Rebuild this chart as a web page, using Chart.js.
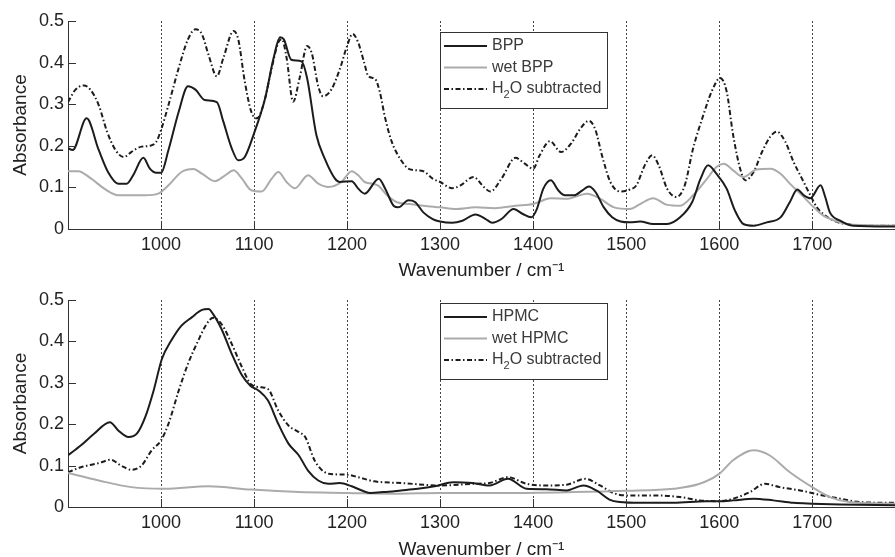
<!DOCTYPE html>
<html><head><meta charset="utf-8">
<script src="https://cdn.jsdelivr.net/npm/chart.js@4/dist/chart.umd.min.js"></script>
<style>
html,body{margin:0;padding:0;background:#fff;}
#wrap{position:relative;width:895px;height:557px;overflow:hidden;background:#fff;}
.panel{position:absolute;left:0;width:895px;}
canvas{display:block;}
</style></head><body>
<div id="wrap">
<div class="panel" style="top:0;height:278px"><canvas id="c1" width="895" height="278"></canvas></div>
<div class="panel" style="top:278px;height:279px"><canvas id="c2" width="895" height="279"></canvas></div>
</div>
<script>
// ---- data (wavenumber / cm-1, absorbance) ----
const xTicks = [1000,1100,1200,1300,1400,1500,1600,1700];
const yTicks = [0,0.1,0.2,0.3,0.4,0.5];
const xTitle = 'Wavenumber / cm\u207B\u00B9';
const yTitle = 'Absorbance';
const topLabels = ['BPP','wet BPP','H\u2082O subtracted'];
const bottomLabels = ['HPMC','wet HPMC','H\u2082O subtracted'];

const bpp = [[900,0.194],[905,0.19],[920,0.266],[933,0.19],[943,0.137],[954,0.109],[963,0.109],[970,0.129],[981,0.171],[988,0.145],[995,0.135],[1000,0.135],[1008,0.19],[1019,0.282],[1029,0.343],[1037,0.335],[1047,0.31],[1060,0.305],[1067,0.258],[1076,0.194],[1083,0.165],[1090,0.173],[1100,0.23],[1112,0.315],[1121,0.411],[1128,0.461],[1132,0.456],[1140,0.407],[1151,0.403],[1157,0.363],[1167,0.226],[1176,0.169],[1187,0.121],[1192,0.113],[1205,0.115],[1212,0.097],[1219,0.085],[1234,0.121],[1241,0.097],[1250,0.056],[1255,0.052],[1266,0.069],[1273,0.065],[1282,0.04],[1292,0.024],[1300,0.018],[1313,0.015],[1324,0.02],[1338,0.035],[1349,0.024],[1356,0.015],[1366,0.024],[1379,0.048],[1389,0.036],[1398,0.028],[1404,0.048],[1411,0.097],[1419,0.117],[1427,0.093],[1434,0.081],[1444,0.081],[1453,0.093],[1460,0.102],[1467,0.089],[1476,0.052],[1485,0.028],[1494,0.018],[1504,0.016],[1515,0.018],[1529,0.012],[1544,0.012],[1558,0.028],[1571,0.065],[1580,0.121],[1588,0.153],[1597,0.133],[1608,0.097],[1617,0.044],[1626,0.012],[1637,0.008],[1651,0.016],[1666,0.028],[1676,0.065],[1684,0.095],[1691,0.081],[1698,0.074],[1709,0.105],[1714,0.077],[1719,0.04],[1730,0.02],[1744,0.008],[1789,0.006]];

const wetBpp = [[900,0.139],[911,0.139],[925,0.121],[939,0.097],[954,0.081],[968,0.081],[983,0.081],[997,0.085],[1008,0.105],[1022,0.137],[1035,0.144],[1044,0.133],[1058,0.115],[1069,0.129],[1078,0.141],[1087,0.121],[1097,0.093],[1108,0.09],[1119,0.121],[1126,0.137],[1135,0.113],[1144,0.098],[1158,0.129],[1169,0.109],[1180,0.101],[1194,0.113],[1205,0.139],[1212,0.129],[1219,0.113],[1233,0.105],[1243,0.081],[1253,0.065],[1267,0.06],[1282,0.056],[1300,0.052],[1317,0.048],[1338,0.052],[1359,0.05],[1381,0.056],[1400,0.06],[1419,0.074],[1437,0.073],[1458,0.085],[1472,0.073],[1487,0.052],[1504,0.048],[1515,0.06],[1529,0.074],[1544,0.058],[1558,0.056],[1572,0.081],[1587,0.121],[1597,0.149],[1605,0.157],[1615,0.141],[1626,0.125],[1640,0.143],[1655,0.145],[1666,0.133],[1676,0.109],[1689,0.081],[1700,0.056],[1712,0.032],[1727,0.018],[1744,0.01],[1789,0.008]];

const bppSub = [[900,0.305],[908,0.335],[917,0.345],[924,0.335],[933,0.298],[942,0.234],[951,0.19],[960,0.173],[968,0.185],[979,0.198],[988,0.2],[995,0.21],[1000,0.238],[1008,0.298],[1019,0.387],[1029,0.456],[1037,0.48],[1044,0.468],[1051,0.419],[1060,0.367],[1067,0.411],[1078,0.476],[1083,0.456],[1090,0.355],[1097,0.282],[1103,0.266],[1110,0.298],[1119,0.387],[1126,0.448],[1130,0.456],[1135,0.411],[1142,0.306],[1149,0.363],[1157,0.44],[1162,0.423],[1169,0.343],[1174,0.319],[1183,0.335],[1192,0.383],[1200,0.44],[1206,0.469],[1212,0.448],[1218,0.403],[1223,0.367],[1230,0.361],[1235,0.331],[1241,0.266],[1248,0.21],[1257,0.169],[1267,0.144],[1282,0.139],[1292,0.121],[1300,0.113],[1313,0.098],[1322,0.105],[1336,0.125],[1347,0.101],[1354,0.09],[1366,0.121],[1381,0.171],[1391,0.157],[1400,0.145],[1407,0.177],[1418,0.211],[1430,0.185],[1441,0.206],[1451,0.242],[1460,0.26],[1467,0.238],[1474,0.177],[1483,0.113],[1494,0.09],[1504,0.095],[1511,0.105],[1520,0.153],[1528,0.177],[1535,0.153],[1544,0.097],[1554,0.077],[1563,0.105],[1572,0.194],[1583,0.274],[1592,0.331],[1601,0.363],[1608,0.331],[1615,0.226],[1623,0.141],[1628,0.117],[1637,0.137],[1646,0.185],[1655,0.222],[1662,0.234],[1671,0.21],[1680,0.161],[1689,0.121],[1698,0.081],[1705,0.052],[1712,0.036],[1723,0.02],[1737,0.012],[1762,0.008],[1789,0.008]];

const hpmc = [[900,0.125],[914,0.149],[928,0.177],[945,0.205],[954,0.185],[965,0.169],[974,0.177],[983,0.217],[992,0.281],[1001,0.358],[1011,0.402],[1022,0.438],[1033,0.458],[1044,0.476],[1051,0.478],[1056,0.466],[1065,0.43],[1076,0.37],[1087,0.318],[1096,0.293],[1105,0.281],[1115,0.257],[1126,0.201],[1137,0.153],[1148,0.125],[1158,0.088],[1169,0.064],[1180,0.056],[1192,0.058],[1205,0.05],[1218,0.038],[1225,0.034],[1239,0.036],[1258,0.04],[1276,0.044],[1294,0.05],[1314,0.06],[1335,0.058],[1353,0.052],[1373,0.068],[1393,0.044],[1414,0.043],[1436,0.04],[1454,0.052],[1468,0.04],[1482,0.018],[1493,0.012],[1515,0.01],[1551,0.01],[1586,0.014],[1600,0.014],[1615,0.016],[1637,0.02],[1658,0.016],[1680,0.01],[1700,0.008],[1730,0.006],[1789,0.004]];

const wetHpmc = [[900,0.082],[933,0.064],[968,0.048],[1004,0.044],[1051,0.05],[1097,0.042],[1148,0.036],[1200,0.034],[1250,0.032],[1300,0.034],[1371,0.034],[1443,0.036],[1500,0.039],[1551,0.044],[1579,0.056],[1600,0.08],[1615,0.113],[1637,0.137],[1654,0.125],[1676,0.084],[1700,0.048],[1719,0.024],[1740,0.012],[1789,0.008]];

const hpmcSub = [[900,0.084],[914,0.096],[933,0.106],[946,0.114],[957,0.1],[968,0.09],[979,0.1],[990,0.137],[1000,0.161],[1008,0.201],[1019,0.281],[1029,0.346],[1040,0.402],[1049,0.442],[1056,0.457],[1065,0.442],[1076,0.394],[1087,0.338],[1097,0.296],[1108,0.289],[1115,0.285],[1126,0.233],[1137,0.197],[1148,0.181],[1155,0.169],[1165,0.113],[1176,0.084],[1187,0.079],[1200,0.078],[1212,0.072],[1229,0.062],[1258,0.058],[1300,0.052],[1335,0.056],[1353,0.058],[1373,0.072],[1393,0.056],[1414,0.052],[1436,0.054],[1456,0.068],[1472,0.052],[1486,0.034],[1500,0.028],[1529,0.028],[1558,0.024],[1579,0.016],[1600,0.014],[1615,0.02],[1633,0.036],[1649,0.056],[1665,0.048],[1687,0.04],[1705,0.031],[1730,0.02],[1751,0.012],[1789,0.01]];

// ---- styles ----
const FONT = "'Liberation Sans', Arial, Helvetica, sans-serif";
const dark = '#1c1c1c', grey = '#ababab';
const subDash = [5, 2.5, 1.5, 2.5];

const inwardTicks = {
  id: 'inwardTicks',
  afterDraw(chart) {
    const {ctx, chartArea: a, scales: {x, y}} = chart;
    ctx.save();
    ctx.strokeStyle = '#333'; ctx.lineWidth = 1; ctx.setLineDash([]);
    y.ticks.forEach(t => {
      const py = Math.round(y.getPixelForValue(t.value)) + 0.5;
      ctx.beginPath(); ctx.moveTo(a.left, py); ctx.lineTo(a.left + 8, py); ctx.stroke();
    });
    x.ticks.forEach(t => {
      const px = Math.round(x.getPixelForValue(t.value)) + 0.5;
      ctx.beginPath(); ctx.moveTo(px, a.bottom); ctx.lineTo(px, a.bottom - 8); ctx.stroke();
    });
    ctx.restore();
  }
};

const boxLegend = {
  id: 'boxLegend',
  afterDraw(chart, args, opts) {
    const {ctx} = chart;
    const L = opts.left, T = opts.top, W = opts.width, H = opts.height;
    ctx.save();
    ctx.fillStyle = '#fff';
    ctx.fillRect(L, T, W, H);
    ctx.strokeStyle = '#333'; ctx.lineWidth = 1; ctx.setLineDash([]);
    ctx.strokeRect(L + 0.5, T + 0.5, W, H);
    chart.data.datasets.forEach((ds, i) => {
      const yy = T + 14 + i * 21.5;
      ctx.strokeStyle = ds.borderColor; ctx.lineWidth = ds.borderWidth;
      ctx.setLineDash(ds.borderDash || []);
      ctx.beginPath(); ctx.moveTo(L + 4, yy); ctx.lineTo(L + 47, yy); ctx.stroke();
      ctx.setLineDash([]);
      ctx.fillStyle = '#3a3a3a'; ctx.textBaseline = 'middle'; ctx.textAlign = 'left';
      let tx = L + 52;
      const parts = ds.label.split('\u2082');
      parts.forEach((p, k) => {
        ctx.font = '16px ' + FONT;
        ctx.fillText(p, tx, yy);
        tx += ctx.measureText(p).width;
        if (k < parts.length - 1) {
          ctx.font = '11px ' + FONT;
          ctx.fillText('2', tx, yy + 6);
          tx += ctx.measureText('2').width;
        }
      });
    });
    ctx.restore();
  }
};

function toXY(arr) { return arr.map(p => ({x: p[0], y: p[1]})); }

function makeChart(id, labels, series, padTop, axisH, legendTop) {
  const styles = [
    {borderColor: dark, borderWidth: 2},
    {borderColor: grey, borderWidth: 2},
    {borderColor: dark, borderWidth: 2, borderDash: subDash}
  ];
  return new Chart(document.getElementById(id), {
    type: 'line',
    data: {
      datasets: series.map((s, i) => Object.assign({
        label: labels[i], data: toXY(s), pointRadius: 0, fill: false,
        cubicInterpolationMode: 'monotone'
      }, styles[i]))
    },
    options: {
      responsive: false, animation: false, devicePixelRatio: 1,
      layout: {padding: {top: padTop, right: 0, left: 0, bottom: 0}},
      plugins: {
        legend: {display: false}, tooltip: {enabled: false},
        boxLegend: {left: 440, top: legendTop, width: 167, height: 76}
      },
      scales: {
        x: {
          type: 'linear', min: 900, max: 1789,
          afterBuildTicks: s => { s.ticks = xTicks.map(v => ({value: v})); },
          afterFit: s => { s.height = axisH; },
          grid: {color: '#444', lineWidth: 1, drawTicks: false},
          border: {display: true, color: '#333', width: 1, dash: [2, 2]},
          ticks: {color: '#222', padding: 5, maxRotation: 0, autoSkip: false,
                  font: {family: FONT, size: 18}, callback: v => String(v)},
          title: {display: true, text: xTitle, color: '#222',
                  font: {family: FONT, size: 19, lineHeight: 1}, padding: {top: 0, bottom: -2}}
        },
        y: {
          min: 0, max: 0.5,
          afterBuildTicks: s => { s.ticks = yTicks.map(v => ({value: v})); },
          afterFit: s => { s.width = 68; },
          grid: {display: true, drawOnChartArea: false, drawTicks: false},
          border: {display: true, color: '#333', width: 1},
          ticks: {color: '#222', padding: 4, font: {family: FONT, size: 18},
                  callback: v => v === 0 ? '0' : v.toFixed(1)},
          title: {display: true, text: yTitle, color: '#222',
                  font: {family: FONT, size: 19, lineHeight: 1.2}, padding: {top: 9, bottom: 0}}
        }
      }
    },
    plugins: [inwardTicks, boxLegend]
  });
}

makeChart('c1', topLabels, [bpp, wetBpp, bppSub], 21, 49, 32);
makeChart('c2', bottomLabels, [hpmc, wetHpmc, hpmcSub], 22, 50, 25);
</script>
</body></html>
